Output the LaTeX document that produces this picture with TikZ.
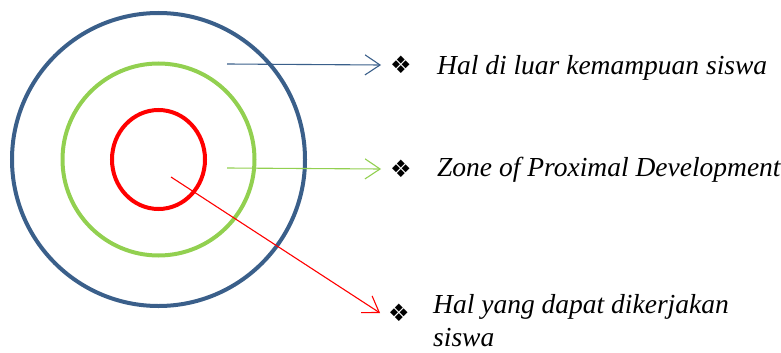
\documentclass[tikz,border=0pt]{standalone}
\usepackage{fontspec}
\setmainfont{Liberation Serif}
\newfontfamily\symfont{DejaVu Sans}
\usetikzlibrary{arrows.meta,shapes.geometric}
\definecolor{ringblue}{HTML}{3A5F8A}
\definecolor{ringgreen}{HTML}{92D050}
\definecolor{ringred}{HTML}{FF0000}
\tikzset{
  ring/.style={draw, line width=4pt, inner sep=0pt},
  pointer/.style={line width=1.1pt, -{Straight Barb[length=15pt,width=20pt,line width=1.1pt]}},
  bullet/.style={font=\symfont\fontsize{24}{24}\selectfont, inner sep=0pt, anchor=center},
  label/.style={font=\itshape\fontsize{27.5}{33}\selectfont, inner sep=0pt, anchor=west, align=left}
}
\begin{document}
\begin{tikzpicture}[x=1pt,y=-1pt]
\useasboundingbox (0,0) rectangle (781,353);
\node[ring, circle, draw=ringblue, minimum size=293pt] (outer) at (158.5,159.5) {};
\node[ring, circle, draw=ringgreen, minimum size=192pt] (middle) at (158.5,159.5) {};
\node[ring, ellipse, draw=ringred, minimum width=93pt, minimum height=99pt] (inner) at (158.5,159.5) {};
\coordinate (sb) at (227,64);
\coordinate (sg) at (227,168);
\coordinate (sr) at (171,177);
\node[bullet] (b1) at (401,65) {❖};
\node[bullet] (b2) at (401,169) {❖};
\node[bullet] (b3) at (399,313) {❖};
\node[label] (t1) at (437,68) {Hal di luar kemampuan siswa};
\node[label] (t2) at (437,170) {Zone of Proximal Development};
\node[label, anchor=north west] (t3) at (433,294) {Hal yang dapat dikerjakan\\siswa};
\draw[pointer, ringblue] (sb) -- ([xshift=-9pt]b1.west);
\draw[pointer, ringgreen] (sg) -- ([xshift=-9pt]b2.west);
\draw[pointer, ringred] (sr) -- ([xshift=-8pt]b3.west);
\end{tikzpicture}
\end{document}
